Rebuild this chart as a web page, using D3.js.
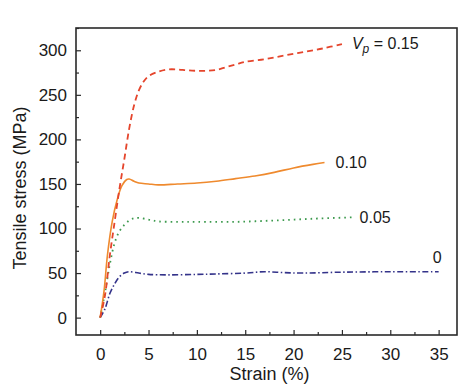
<!DOCTYPE html>
<html>
<head>
<meta charset="utf-8">
<script src="https://cdn.jsdelivr.net/npm/d3@7"></script>
<style>
  body { margin: 0; background: #fff; }
  text { font-family: "Liberation Sans", Arial, sans-serif; fill: #1a1a1a; }
</style>
</head>
<body>
<div id="chart"></div>
<script>
// data: [strain %, stress MPa]
const vp015 = [[0,0],[0.5,25],[1,70],[1.5,108],[2,145],[2.5,178],[3,212],[3.5,238],[4,255],[4.5,265],[5,271],[6,276],[7,278.5],[8,278.5],[9,277.5],[10,277],[11,277],[12,278],[13,281],[14,284],[15,287],[17,290],[19,294],[21,298],[23,302],[25,307]]
const vp010 = [[0,0],[0.4,30],[0.75,70],[1.25,108],[1.75,132],[2.25,148],[2.75,155],[3,155.5],[3.5,153],[4,151],[5,150],[6,149],[8,150],[10,151],[12,153],[14,156],[16,159],[18,163],[20,168],[22,172],[23.2,174]]
const vp005 = [[0,0],[0.5,28],[1,60],[1.5,84],[2,97],[2.5,104],[3,109],[3.5,111.5],[4,112],[5,110],[6,108],[8,107.5],[10,107.5],[14,107.5],[18,109],[22,111],[26,112.5]]
const vp000 = [[0,0],[0.5,10],[1,27],[1.5,38],[2,46],[2.5,50],[3,51.5],[4,50],[5,48.5],[7,48],[10,48.5],[12,49],[15,50],[17,51.5],[19,50.5],[21,50],[25,51],[30,51.5],[35,51.5]]

const xTicks = [0, 5, 10, 15, 20, 25, 30, 35]
const yTicks = [0, 50, 100, 150, 200, 250, 300]

const dimensions = {
  width: 463,
  height: 389,
  margin: { top: 28, right: 6, bottom: 54, left: 76 },
}
dimensions.boundedWidth = dimensions.width - dimensions.margin.left - dimensions.margin.right
dimensions.boundedHeight = dimensions.height - dimensions.margin.top - dimensions.margin.bottom

const wrapper = d3.select("#chart")
  .append("svg")
    .attr("width", dimensions.width)
    .attr("height", dimensions.height)

const bounds = wrapper.append("g")
  .attr("transform", `translate(${dimensions.margin.left},${dimensions.margin.top})`)

const xScale = d3.scaleLinear()
  .domain([-2.5, 36.9])
  .range([0, dimensions.boundedWidth])

const yScale = d3.scaleLinear()
  .domain([-19.5, 325])
  .range([dimensions.boundedHeight, 0])

// axes: ticks point inward
const xAxis = bounds.append("g")
  .attr("transform", `translate(0,${dimensions.boundedHeight})`)
  .call(d3.axisBottom(xScale).tickValues(xTicks).tickSizeInner(-5).tickSizeOuter(0).tickPadding(13))
const xMinor = bounds.append("g")
  .attr("transform", `translate(0,${dimensions.boundedHeight})`)
  .call(d3.axisBottom(xScale).tickValues(xTicks.map(d => d + 2.5).filter(d => d < 36.9)).tickSizeInner(-3).tickSizeOuter(0).tickFormat(""))

const yAxis = bounds.append("g")
  .call(d3.axisLeft(yScale).tickValues(yTicks).tickSizeInner(-5).tickSizeOuter(0).tickPadding(9))
const yMinor = bounds.append("g")
  .call(d3.axisLeft(yScale).tickValues(yTicks.map(d => d + 25)).tickSizeInner(-3).tickSizeOuter(0).tickFormat(""))

bounds.selectAll(".domain").remove()
bounds.selectAll(".tick line").attr("stroke", "#2a2a2a").attr("stroke-width", 1.2)
bounds.selectAll(".tick text")
  .attr("font-size", 17)
  .attr("font-family", "Liberation Sans, Arial, sans-serif")
  .attr("fill", "#1a1a1a")

const frame = bounds.append("rect")
  .attr("width", dimensions.boundedWidth)
  .attr("height", dimensions.boundedHeight)
  .attr("fill", "none")
  .attr("stroke", "#2a2a2a")
  .attr("stroke-width", 1.6)

// curves
const lineGenerator = d3.line()
  .x(d => xScale(d[0]))
  .y(d => yScale(d[1]))
  .curve(d3.curveCatmullRom.alpha(0.5))

const series = [
  { data: vp000, color: "#34338a", dash: "6 2.5 1.5 2.5", width: 1.6 },
  { data: vp005, color: "#3d9a4e", dash: "1.6 4", width: 1.8 },
  { data: vp010, color: "#ef8a2e", dash: null, width: 1.6 },
  { data: vp015, color: "#e5452c", dash: "6 4", width: 1.8 },
]

series.forEach(s => {
  bounds.append("path")
    .attr("d", lineGenerator(s.data))
    .attr("fill", "none")
    .attr("stroke", s.color)
    .attr("stroke-width", s.width)
    .attr("stroke-dasharray", s.dash)
})

// curve labels
const labelSize = 16
const vLabel = bounds.append("text")
  .attr("x", xScale(25) + 10)
  .attr("y", yScale(307) + 5)
  .attr("font-size", labelSize)
vLabel.append("tspan").attr("font-style", "italic").text("V")
vLabel.append("tspan").attr("font-style", "italic").attr("font-size", 12).attr("dy", 4).text("p")
vLabel.append("tspan").attr("dy", -4).text(" = 0.15")

bounds.append("text")
  .attr("x", xScale(23.2) + 11)
  .attr("y", yScale(174) + 5)
  .attr("font-size", labelSize)
  .text("0.10")

bounds.append("text")
  .attr("x", xScale(26) + 8)
  .attr("y", yScale(112.5) + 6)
  .attr("font-size", labelSize)
  .text("0.05")

bounds.append("text")
  .attr("x", xScale(35) - 6)
  .attr("y", yScale(61))
  .attr("font-size", labelSize)
  .text("0")

// axis titles
wrapper.append("text")
  .attr("x", dimensions.margin.left + xScale(17.5))
  .attr("y", 380)
  .attr("text-anchor", "middle")
  .attr("font-size", 18)
  .text("Strain (%)")

wrapper.append("text")
  .attr("transform", `translate(26,188) rotate(-90)`)
  .attr("text-anchor", "middle")
  .attr("font-size", 18)
  .text("Tensile stress (MPa)")
</script>
</body>
</html>
